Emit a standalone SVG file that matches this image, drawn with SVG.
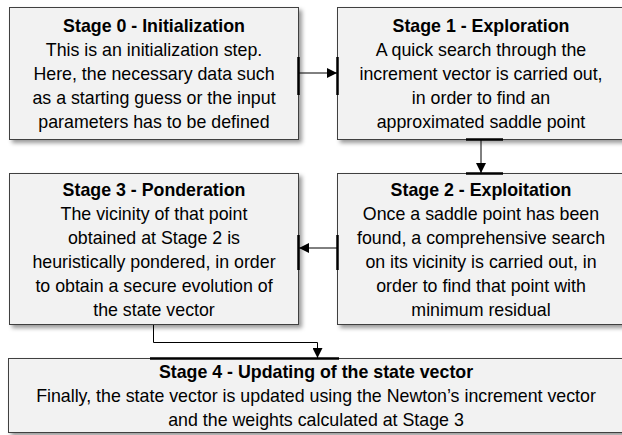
<svg xmlns="http://www.w3.org/2000/svg" width="622" height="435" viewBox="0 0 622 435">
<defs>
<filter id="sh" x="-5%" y="-5%" width="115%" height="125%">
<feDropShadow dx="3" dy="3" stdDeviation="2" flood-color="#000" flood-opacity="0.4"/>
</filter>
<marker id="ah" viewBox="0 0 10 10" refX="10" refY="5" markerWidth="10" markerHeight="10" markerUnits="userSpaceOnUse" orient="auto">
<path d="M0,0 L10,5 L0,10 Z" fill="#000"/>
</marker>
</defs>
<style>
.box{fill:#f2f2f2;stroke:#404040;stroke-width:1;filter:url(#sh)}
text{font-family:"Liberation Sans",Arial,sans-serif;font-size:17.8px;fill:#000;text-anchor:middle}
.t{font-weight:bold}
.c{fill:none;stroke:#000;stroke-width:1}
.bar{stroke:#000;stroke-width:2.5}
</style>
<rect width="622" height="435" fill="#fff"/>
<g id="stage0">
<rect class="box" x="9.5" y="7.5" width="289" height="132"/>
<text x="154" y="31.5" class="t">Stage 0 - Initialization</text>
<text x="154" y="55.5">This is an initialization step.</text>
<text x="154" y="79.5">Here, the necessary data such</text>
<text x="154" y="103.5">as a starting guess or the input</text>
<text x="154" y="127.5">parameters has to be defined</text>
</g>
<g id="stage1">
<rect class="box" x="337.5" y="7.5" width="289" height="132"/>
<text x="481" y="31.5" class="t">Stage 1 - Exploration</text>
<text x="481" y="55.5">A quick search through the</text>
<text x="481" y="79.5">increment vector is carried out,</text>
<text x="481" y="103.5">in order to find an</text>
<text x="481" y="127.5">approximated saddle point</text>
</g>
<g id="stage3">
<rect class="box" x="9.5" y="173.5" width="289" height="151"/>
<text x="154" y="195.5" class="t">Stage 3 - Ponderation</text>
<text x="154" y="219.5">The vicinity of that point</text>
<text x="154" y="243.5">obtained at Stage 2 is</text>
<text x="154" y="267.5">heuristically pondered, in order</text>
<text x="154" y="291.5">to obtain a secure evolution of</text>
<text x="154" y="315.5">the state vector</text>
</g>
<g id="stage2">
<rect class="box" x="337.5" y="173.5" width="289" height="151"/>
<text x="481" y="195.5" class="t">Stage 2 - Exploitation</text>
<text x="481" y="219.5">Once a saddle point has been</text>
<text x="481" y="243.5">found, a comprehensive search</text>
<text x="481" y="267.5">on its vicinity is carried out, in</text>
<text x="481" y="291.5">order to find that point with</text>
<text x="481" y="315.5">minimum residual</text>
</g>
<g id="stage4">
<rect class="box" x="8.5" y="358.5" width="617" height="74"/>
<text x="316" y="378" class="t">Stage 4 - Updating of the state vector</text>
<text x="316" y="402">Finally, the state vector is updated using the Newton’s increment vector</text>
<text x="316" y="426">and the weights calculated at Stage 3</text>
</g>
<g id="connectors">
<line class="bar" x1="298.5" y1="57" x2="298.5" y2="95"/>
<line class="bar" x1="337.5" y1="57" x2="337.5" y2="95"/>
<line class="c" x1="299" y1="73" x2="337" y2="73" marker-end="url(#ah)"/>
<line class="bar" x1="466" y1="139.5" x2="503" y2="139.5"/>
<line class="bar" x1="466" y1="173.5" x2="503" y2="173.5"/>
<line class="c" x1="481" y1="140" x2="481" y2="173" marker-end="url(#ah)"/>
<line class="bar" x1="337.5" y1="235" x2="337.5" y2="270"/>
<line class="bar" x1="298.5" y1="235" x2="298.5" y2="270"/>
<line class="c" x1="337" y1="248" x2="299" y2="248" marker-end="url(#ah)"/>
<line class="bar" x1="150" y1="358.5" x2="339" y2="358.5"/>
<polyline class="c" points="153.5,325 153.5,342.5 317.5,342.5 317.5,358" marker-end="url(#ah)" stroke="#404040"/>
</g>
</svg>
